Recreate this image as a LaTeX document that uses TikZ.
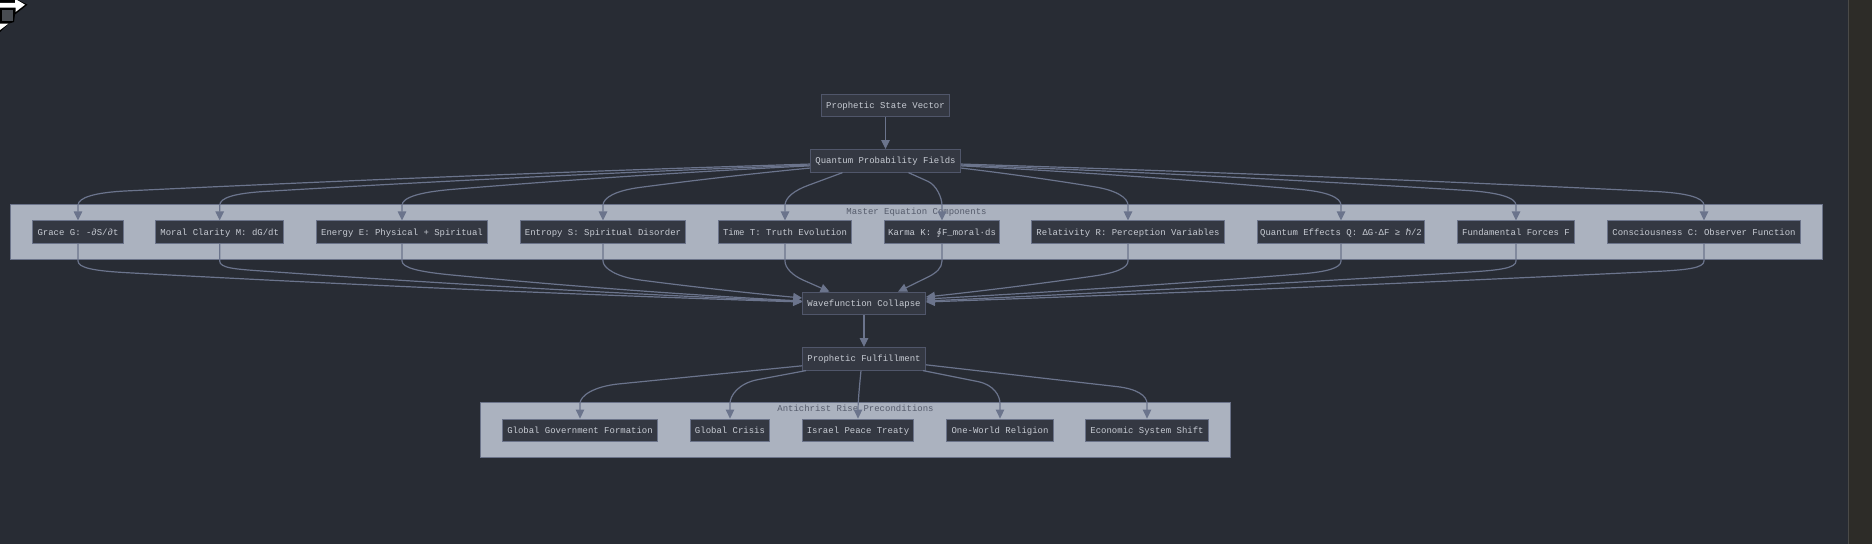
\documentclass[tikz,border=0pt]{standalone}
\usepackage{fontspec}
\setmainfont{Liberation Mono}
\newfontfamily\symf{DejaVu Sans}
\usetikzlibrary{arrows.meta,calc}
\definecolor{bgc}{HTML}{282C34}
\definecolor{stripc}{HTML}{2D2C28}
\definecolor{stripl}{HTML}{4A4A48}
\definecolor{ndfill}{HTML}{343842}
\definecolor{ndline}{HTML}{50566A}
\definecolor{inline}{HTML}{6B7389}
\definecolor{ndtext}{HTML}{C8CCD4}
\definecolor{clfill}{HTML}{ABB2BF}
\definecolor{cltext}{HTML}{555B6B}
\definecolor{edgec}{HTML}{6B748C}
\tikzset{
  nd/.style={draw=ndline,fill=ndfill,line width=1pt,text=ndtext,inner sep=0pt,minimum height=22.6pt,text height=8pt,text depth=2pt,font=\fontsize{8.98}{10}\selectfont},
  ind/.style={nd,draw=inline},
  cl/.style={draw=inline,fill=clfill,line width=1pt},
  cltitle/.style={text=cltext,inner sep=0pt,text height=6.6pt,text depth=2pt,font=\fontsize{8.98}{10}\selectfont},
  edge/.style={draw=edgec,line width=1.2pt,-{Triangle[length=9pt,width=8.5pt]}}
}
% #1 start, #2 target, #3,#4 bend point from target, #5 tangent length, #6 bulge
\newcommand{\upE}[6]{%
  \coordinate (ss) at (#1);
  \coordinate (bb) at ([shift={(#3,#4)}]#2.north);
  \coordinate (c2) at ($(ss)!0.67!(bb)+(0,#6)$);
  \draw[edge] (ss) .. controls ($(ss)!0.33!(bb)+(0,#6)$) and (c2) .. (bb)
    .. controls ($(bb)!-#5pt!(c2)$) and ([shift={(0,-23)}]#2.north) .. ([shift={(0,-15)}]#2.north) -- (#2.north);}
% #1 source, #2,#3 bend point from source, #4 tangent length, #5 bulge, #6 end
\newcommand{\dnE}[6]{%
  \coordinate (ee) at (#6);
  \coordinate (bb) at ([shift={(#2,#3)}]#1.south);
  \coordinate (c2) at ($(ee)!0.67!(bb)+(0,#5)$);
  \draw[edge] (#1.south) -- ([shift={(0,17)}]#1.south) .. controls ([shift={(0,24)}]#1.south) and ($(bb)!-#4pt!(c2)$) .. (bb)
    .. controls (c2) and ($(ee)!0.33!(bb)+(0,#5)$) .. (ee);}
\begin{document}
\begin{tikzpicture}[x=1pt,y=-1pt]
\useasboundingbox (0,0) rectangle (1872,544);
\fill[bgc] (0,0) rectangle (1872,544);
\fill[stripc] (1848,0) rectangle (1872,544);
\draw[stripl,line width=1pt] (1848.5,0) -- (1848.5,544);
% corner glyph
\fill[black] (0,0) -- (18,0) -- (27.5,4.7) -- (15,14.5) -- (14,22) -- (9,23.5) -- (0,32) -- cycle;
\fill[white] (0,2.8) -- (15,2.8) -- (15,0) -- (17,0) -- (25,4.7) -- (15.5,12) -- (15.5,7.5) -- (0,7.5) -- cycle;
\fill[bgc!85!white] (1.5,10) rectangle (12.5,20.5);
\fill[white] (0,23.5) -- (8.5,23.5) -- (0,30) -- cycle;
% clusters
\node[cl,minimum width=1812pt,minimum height=54.6pt,inner sep=0pt] (c1) at (916.5,232) {};
\node[cl,minimum width=750pt,minimum height=54.6pt,inner sep=0pt] (c2n) at (855.5,430) {};
\node[cltitle] (c1t) at (916.5,212) {Master Equation Components};
\node[cltitle] (c2t) at (855.5,409.6) {Antichrist Rise Preconditions};
% nodes
\node[nd,minimum width=128pt] (P) at (885.5,105.4) {Prophetic State Vector};
\node[nd,minimum width=150pt] (Q) at (885.5,160.85) {Quantum Probability Fields};
\node[nd,minimum width=122.7pt] (W) at (864,303.5) {Wavefunction Collapse};
\node[nd,minimum width=122.7pt] (F) at (864,358.8) {Prophetic Fulfillment};
\node[ind,minimum width=90.4pt] (g1) at (78,232.2) {Grace G: -∂S/∂t};
\node[ind,minimum width=127.6pt] (g2) at (219.7,232.2) {Moral Clarity M: dG/dt};
\node[ind,minimum width=171pt] (g3) at (402,232.2) {Energy E: Physical + Spiritual};
\node[ind,minimum width=165.8pt] (g4) at (603,232.2) {Entropy S: Spiritual Disorder};
\node[ind,minimum width=133.4pt] (g5) at (785,232.2) {Time T: Truth Evolution};
\node[ind,minimum width=114.5pt] (g6) at (942,232.2) {Karma K: \makebox[5.39pt]{\symf ∮}F\_moral·ds};
\node[ind,minimum width=193pt] (g7) at (1128,232.2) {Relativity R: Perception Variables};
\node[ind,minimum width=167.5pt] (g8) at (1341,232.2) {Quantum Effects Q: ΔG·ΔF ≥ \makebox[5.39pt]{\symf ℏ}/2};
\node[ind,minimum width=117.5pt] (g9) at (1516,232.2) {Fundamental Forces F};
\node[ind,minimum width=193.5pt] (g10) at (1704,232.2) {Consciousness C: Observer Function};
\node[ind,minimum width=154.7pt] (a1) at (580,430.4) {Global Government Formation};
\node[ind,minimum width=79pt] (a2) at (730,430.4) {Global Crisis};
\node[ind,minimum width=111.8pt] (a3) at (858,430.4) {Israel Peace Treaty};
\node[ind,minimum width=106.6pt] (a4) at (1000,430.4) {One-World Religion};
\node[ind,minimum width=122.8pt] (a5) at (1147,430.4) {Economic System Shift};
% edges
\draw[edge] (P.south) -- (Q.north);
\draw[edge] (W.south) -- (F.north);
\upE{$(Q.west)+(0,3.2)$}{g1}{49}{-29.5}{32}{-2}
\upE{$(Q.west)+(0,4.2)$}{g2}{46}{-29}{30}{-2}
\upE{$(Q.west)+(0,5)$}{g3}{50}{-31}{32}{-2}
\upE{$(Q.west)+(0,7.2)$}{g4}{37}{-33}{24}{-1}
\upE{$(Q.south)+(-43,0)$}{g5}{23}{-35}{14}{0}
\upE{$(Q.south)+(23,0)$}{g6}{-14}{-39}{9}{0}
\upE{$(Q.east)+(0,7.2)$}{g7}{-33}{-33.5}{21}{-1}
\upE{$(Q.east)+(0,5)$}{g8}{-41}{-31}{27}{-2}
\upE{$(Q.east)+(0,4.2)$}{g9}{-50}{-30}{32}{-2}
\upE{$(Q.east)+(0,3.2)$}{g10}{-50}{-29}{32}{-2}
\dnE{g1}{49}{28.7}{32}{2.5}{$(W.west)+(0,-1.5)$}
\dnE{g2}{42}{27}{27}{2.5}{$(W.west)+(0,-2)$}
\dnE{g3}{50}{31}{32}{2.5}{$(W.west)+(0,-2.5)$}
\dnE{g4}{37}{36}{24}{1}{$(W.west)+(0,-5.5)$}
\dnE{g5}{18}{36}{11}{0}{$(W.north)+(-34.5,0)$}
\dnE{g6}{-14}{33}{9}{0}{$(W.north)+(34,0)$}
\dnE{g7}{-34}{32}{22}{1}{$(W.east)+(0,-6.5)$}
\dnE{g8}{-41}{30}{27}{1.5}{$(W.east)+(0,-4.5)$}
\dnE{g9}{-46}{28}{30}{1.5}{$(W.east)+(0,-2.5)$}
\dnE{g10}{-49}{27.5}{32}{1.5}{$(W.east)+(0,-1.5)$}
\upE{$(F.west)+(0,7)$}{a1}{39}{-34.7}{25}{0}
\upE{$(F.south)+(-58,0)$}{a2}{28}{-39}{20}{0}
\draw[edge] ($(F.south)+(-3,0)$) .. controls ($(F.south)+(-5,20)$) and ([shift={(0,-15)}]a3.north) .. (a3.north);
\upE{$(F.south)+(59,0)$}{a4}{-22}{-37}{16}{0}
\upE{$(F.east)+(0,6)$}{a5}{-30}{-32}{20}{0}
\end{tikzpicture}
\end{document}
